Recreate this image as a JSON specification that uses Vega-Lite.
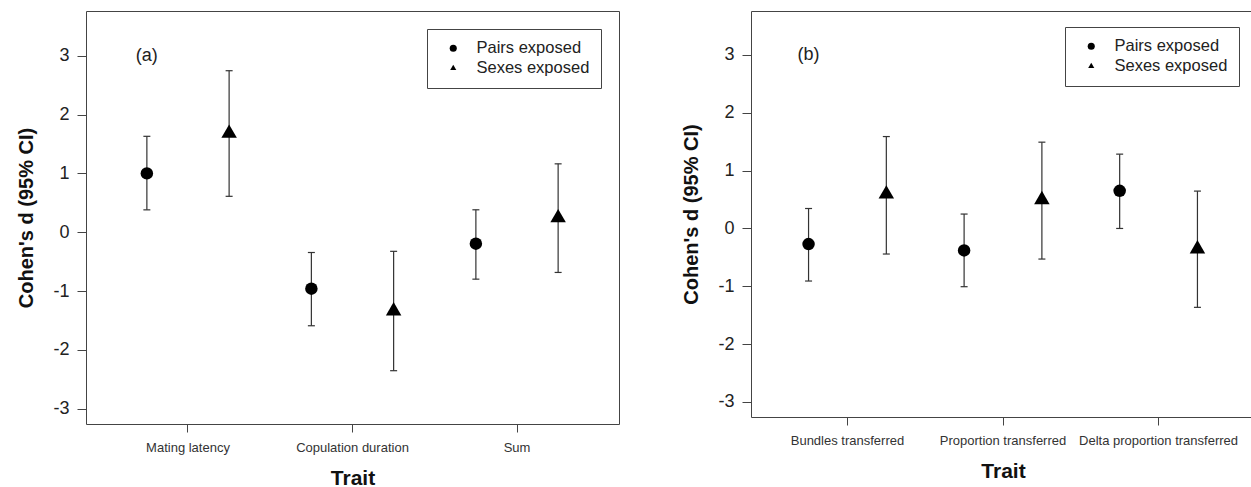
{
  "$schema": "https://vega.github.io/schema/vega-lite/v6.json",
  "padding": {"left": 16, "top": 10, "right": 0, "bottom": 0},
  "background": "white",
  "spacing": 61,
  "datasets": {
    "a": [
      {"trait": "Mating latency", "group": "Pairs exposed", "d": 1.0, "lo": 0.38, "hi": 1.63},
      {"trait": "Mating latency", "group": "Sexes exposed", "d": 1.68, "lo": 0.61, "hi": 2.745},
      {"trait": "Copulation duration", "group": "Pairs exposed", "d": -0.96, "lo": -1.59, "hi": -0.345},
      {"trait": "Copulation duration", "group": "Sexes exposed", "d": -1.34, "lo": -2.354, "hi": -0.325},
      {"trait": "Sum", "group": "Pairs exposed", "d": -0.195, "lo": -0.798, "hi": 0.381},
      {"trait": "Sum", "group": "Sexes exposed", "d": 0.244, "lo": -0.684, "hi": 1.162}
    ],
    "b": [
      {"trait": "Bundles transferred", "group": "Pairs exposed", "d": -0.27, "lo": -0.909, "hi": 0.345},
      {"trait": "Bundles transferred", "group": "Sexes exposed", "d": 0.594, "lo": -0.442, "hi": 1.589},
      {"trait": "Proportion transferred", "group": "Pairs exposed", "d": -0.38, "lo": -1.007, "hi": 0.249},
      {"trait": "Proportion transferred", "group": "Sexes exposed", "d": 0.496, "lo": -0.529, "hi": 1.492},
      {"trait": "Delta proportion transferred", "group": "Pairs exposed", "d": 0.651, "lo": 0.0, "hi": 1.285},
      {"trait": "Delta proportion transferred", "group": "Sexes exposed", "d": -0.356, "lo": -1.364, "hi": 0.646}
    ]
  },
  "config": {
    "font": "Liberation Sans",
    "view": {"stroke": "#444", "strokeWidth": 1},
    "axis": {"domain": false, "grid": false, "tickColor": "#444", "tickWidth": 1, "labelFont": "Liberation Sans", "titleFont": "Liberation Sans", "titleFontWeight": "bold", "titleColor": "#111"},
    "axisY": {"tickSize": 9, "labelPadding": 8, "labelFontSize": 18, "labelColor": "#222", "titleFontSize": 20, "titlePadding": 16, "tickCount": 7, "labelExpr": "datum.value < 0 ? '-' + abs(datum.value) : '' + datum.value"},
    "axisX": {"tickSize": 8, "labelPadding": 9, "labelFontSize": 13, "labelColor": "#333", "labelAngle": 0, "titleFontSize": 21, "titlePadding": 13, "bandPosition": 0.5},
    "legend": {"orient": "top-right", "offset": 16, "title": null, "strokeColor": "#444", "strokeWidth": 1, "fillColor": "white", "padding": 11, "rowPadding": 3, "labelFont": "Liberation Sans", "labelFontSize": 16.5, "labelColor": "#222", "labelOffset": 15, "symbolSize": 50, "symbolOffset": 7, "symbolFillColor": "black", "symbolStrokeWidth": 0}
  },
  "resolve": {"scale": {"x": "independent", "y": "independent", "xOffset": "independent", "shape": "independent"}, "legend": {"shape": "independent"}},
  "hconcat": [
    {
      "width": 533,
      "height": 413,
      "data": {"name": "a"},
      "encoding": {
        "x": {"field": "trait", "type": "nominal", "sort": ["Mating latency", "Copulation duration", "Sum"], "title": "Trait", "scale": {"paddingInner": 0, "paddingOuter": 0.12}},
        "xOffset": {"field": "group", "type": "nominal", "sort": ["Pairs exposed", "Sexes exposed"], "scale": {"paddingInner": 0, "paddingOuter": 0}}
      },
      "layer": [
        {"mark": {"type": "rule", "color": "#333", "strokeWidth": 1.2},
         "encoding": {"y": {"field": "lo", "type": "quantitative", "title": "Cohen's d (95% CI)", "scale": {"domain": [-3.26, 3.76], "nice": false, "zero": false}}, "y2": {"field": "hi"}}},
        {"mark": {"type": "tick", "orient": "horizontal", "color": "#333", "size": 7, "thickness": 1.2, "opacity": 1},
         "encoding": {"y": {"field": "lo", "type": "quantitative", "title": "Cohen's d (95% CI)", "scale": {"domain": [-3.26, 3.76], "nice": false, "zero": false}}}},
        {"mark": {"type": "tick", "orient": "horizontal", "color": "#333", "size": 7, "thickness": 1.2, "opacity": 1},
         "encoding": {"y": {"field": "hi", "type": "quantitative", "title": "Cohen's d (95% CI)", "scale": {"domain": [-3.26, 3.76], "nice": false, "zero": false}}}},
        {"mark": {"type": "point", "filled": true, "color": "black", "opacity": 1, "strokeWidth": 0},
         "encoding": {
           "y": {"field": "d", "type": "quantitative", "title": "Cohen's d (95% CI)", "scale": {"domain": [-3.26, 3.76], "nice": false, "zero": false}},
           "shape": {"field": "group", "type": "nominal", "scale": {"domain": ["Pairs exposed", "Sexes exposed"], "range": ["circle", "M0,-1L0.866,0.5L-0.866,0.5Z"]}, "legend": {"offset": 18}},
           "size": {"condition": {"test": "datum.group === 'Sexes exposed'", "value": 320}, "value": 156}
         }},
        {"data": {"values": [{"label": "(a)"}]},
         "mark": {"type": "text", "fontSize": 18, "color": "#222", "align": "center", "baseline": "middle"},
         "encoding": {
           "x": {"datum": "Mating latency", "type": "nominal"},
           "xOffset": {"datum": "Pairs exposed", "type": "nominal"},
           "y": {"datum": 3, "type": "quantitative"},
           "text": {"field": "label"}
         }}
      ]
    },
    {
      "width": 504,
      "height": 406,
      "data": {"name": "b"},
      "encoding": {
        "x": {"field": "trait", "type": "nominal", "sort": ["Bundles transferred", "Proportion transferred", "Delta proportion transferred"], "title": "Trait", "scale": {"paddingInner": 0, "paddingOuter": 0.12}},
        "xOffset": {"field": "group", "type": "nominal", "sort": ["Pairs exposed", "Sexes exposed"], "scale": {"paddingInner": 0, "paddingOuter": 0}}
      },
      "layer": [
        {"mark": {"type": "rule", "color": "#333", "strokeWidth": 1.2},
         "encoding": {"y": {"field": "lo", "type": "quantitative", "title": "Cohen's d (95% CI)", "scale": {"domain": [-3.26, 3.76], "nice": false, "zero": false}}, "y2": {"field": "hi"}}},
        {"mark": {"type": "tick", "orient": "horizontal", "color": "#333", "size": 7, "thickness": 1.2, "opacity": 1},
         "encoding": {"y": {"field": "lo", "type": "quantitative", "title": "Cohen's d (95% CI)", "scale": {"domain": [-3.26, 3.76], "nice": false, "zero": false}}}},
        {"mark": {"type": "tick", "orient": "horizontal", "color": "#333", "size": 7, "thickness": 1.2, "opacity": 1},
         "encoding": {"y": {"field": "hi", "type": "quantitative", "title": "Cohen's d (95% CI)", "scale": {"domain": [-3.26, 3.76], "nice": false, "zero": false}}}},
        {"mark": {"type": "point", "filled": true, "color": "black", "opacity": 1, "strokeWidth": 0},
         "encoding": {
           "y": {"field": "d", "type": "quantitative", "title": "Cohen's d (95% CI)", "scale": {"domain": [-3.26, 3.76], "nice": false, "zero": false}},
           "shape": {"field": "group", "type": "nominal", "scale": {"domain": ["Pairs exposed", "Sexes exposed"], "range": ["circle", "M0,-1L0.866,0.5L-0.866,0.5Z"]}, "legend": {"offset": 16}},
           "size": {"condition": {"test": "datum.group === 'Sexes exposed'", "value": 320}, "value": 156}
         }},
        {"data": {"values": [{"label": "(b)"}]},
         "mark": {"type": "text", "fontSize": 18, "color": "#222", "align": "center", "baseline": "middle"},
         "encoding": {
           "x": {"datum": "Bundles transferred", "type": "nominal"},
           "xOffset": {"datum": "Pairs exposed", "type": "nominal"},
           "y": {"datum": 3, "type": "quantitative"},
           "text": {"field": "label"}
         }}
      ]
    }
  ]
}
